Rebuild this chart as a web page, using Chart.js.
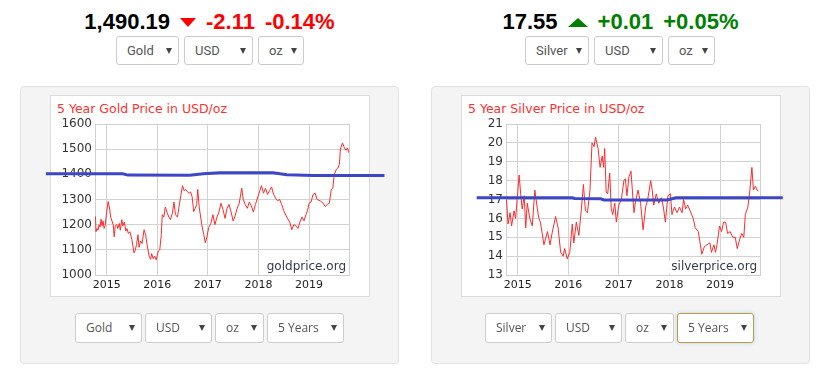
<!DOCTYPE html>
<html>
<head>
<meta charset="utf-8">
<script src="https://cdn.jsdelivr.net/npm/chart.js@4.4.1/dist/chart.umd.min.js"></script>
<style>
  body { margin: 0; background: #fff; width: 827px; height: 379px; overflow: hidden; position: relative; }
  .quote { position: absolute; top: 10px; width: 379px; display: flex; justify-content: center; align-items: center; gap: 10px;
           font: bold 22px "Liberation Sans", Arial, sans-serif; line-height: 24px; }
  .down { width: 0; height: 0; border-left: 8.5px solid transparent; border-right: 8.5px solid transparent; border-top: 9px solid #ff0000; }
  .up { width: 0; height: 0; border-left: 10px solid transparent; border-right: 10px solid transparent; border-bottom: 9px solid #008000; }
  .red { color: #ff0000; }
  .green { color: #008000; }
  .sel { position: absolute; box-sizing: border-box; border: 1px solid #ccc; border-radius: 3px; background: #fff; color: #555;
         padding-left: 10px; }
  .sel i { position: absolute; right: 6px; top: 50%; margin-top: -3px; width: 0; height: 0; border-left: 3px solid transparent;
           border-right: 3px solid transparent; border-top: 6px solid #444; }
  .top { top: 36px; height: 29px; line-height: 27px; font: 13px/27px Roboto, sans-serif; }
  .bot { top: 313px; height: 30px; font: 12px/28px "Open Sans", sans-serif; }
  .focus { border-color: #c49a3c; box-shadow: 0 0 4px rgba(102, 175, 233, 0.45); }
  .grp { position: absolute; top: 86px; width: 379px; height: 278px; }
  .panel { position: absolute; left: 0; top: 0; right: 0; bottom: 0; background: #f4f4f4; border: 1px solid #e2e2e2; border-radius: 4px; }
  .box { position: absolute; left: 30px; top: 9px; width: 320px; height: 202px; box-sizing: border-box; background: #fff; border: 1px solid #dcdcdc; }
  .box span { position: absolute; left: 6px; top: 5px; font: 12.5px "DejaVu Sans", sans-serif; color: #ff3030; white-space: nowrap; }
  canvas { position: absolute; left: 0; top: 0; }
</style>
</head>
<body>

<div class="quote" style="left:20px"><span>1,490.19</span><span class="down"></span><span class="red">-2.11</span><span class="red">-0.14%</span></div>
<div class="sel top" style="left:116px;width:63px">Gold<i></i></div>
<div class="sel top" style="left:184px;width:69px">USD<i></i></div>
<div class="sel top" style="left:258px;width:46px">oz<i></i></div>

<div class="quote" style="left:431px"><span>17.55</span><span class="up"></span><span class="green">+0.01</span><span class="green">+0.05%</span></div>
<div class="sel top" style="left:525px;width:64px">Silver<i></i></div>
<div class="sel top" style="left:594px;width:69px">USD<i></i></div>
<div class="sel top" style="left:668px;width:47px">oz<i></i></div>

<div class="grp" style="left:20px">
  <div class="panel"></div>
  <div class="box"><span>5 Year Gold Price in USD/oz</span></div>
  <canvas id="goldChart" width="379" height="278"></canvas>
</div>
<div class="grp" style="left:431px">
  <div class="panel"></div>
  <div class="box"><span>5 Year Silver Price in USD/oz</span></div>
  <canvas id="silverChart" width="379" height="278"></canvas>
</div>

<div class="sel bot" style="left:75px;width:67px">Gold<i></i></div>
<div class="sel bot" style="left:145px;width:67px">USD<i></i></div>
<div class="sel bot" style="left:215px;width:49px">oz<i></i></div>
<div class="sel bot" style="left:267px;width:77px">5 Years<i></i></div>

<div class="sel bot" style="left:485px;width:67px">Silver<i></i></div>
<div class="sel bot" style="left:555px;width:67px">USD<i></i></div>
<div class="sel bot" style="left:625px;width:49px">oz<i></i></div>
<div class="sel bot focus" style="left:677px;width:77px">5 Years<i></i></div>

<script>
// x axis: decimal years, labelled on each January
const yearTicks = [2015, 2016, 2017, 2018, 2019];

// gold, USD/oz
const goldYears = [2014.78, 2014.79, 2014.81, 2014.83, 2014.85, 2014.87, 2014.89, 2014.91, 2014.93, 2014.95, 2014.97,
  2015.00, 2015.03, 2015.06, 2015.08, 2015.10, 2015.13, 2015.15, 2015.17, 2015.20, 2015.22, 2015.25, 2015.27, 2015.30,
  2015.32, 2015.35, 2015.38, 2015.40, 2015.43, 2015.46, 2015.50, 2015.54, 2015.56, 2015.59, 2015.62, 2015.64, 2015.67,
  2015.70, 2015.74, 2015.77, 2015.80, 2015.84, 2015.87, 2015.89, 2015.92, 2015.95, 2015.98, 2016.02, 2016.05, 2016.08,
  2016.10, 2016.13, 2016.16, 2016.19, 2016.23, 2016.26, 2016.30, 2016.33, 2016.36, 2016.40, 2016.43, 2016.47, 2016.50,
  2016.53, 2016.56, 2016.60, 2016.63, 2016.66, 2016.69, 2016.72, 2016.75, 2016.78, 2016.80, 2016.83, 2016.88, 2016.92,
  2016.95, 2016.98, 2017.02, 2017.06, 2017.10, 2017.14, 2017.18, 2017.22, 2017.26, 2017.30, 2017.34, 2017.38, 2017.42,
  2017.46, 2017.50, 2017.54, 2017.58, 2017.62, 2017.67, 2017.70, 2017.74, 2017.78, 2017.82, 2017.86, 2017.90, 2017.94,
  2018.02, 2018.06, 2018.10, 2018.14, 2018.18, 2018.22, 2018.26, 2018.30, 2018.34, 2018.38, 2018.42, 2018.46, 2018.50,
  2018.56, 2018.62, 2018.66, 2018.70, 2018.74, 2018.78, 2018.82, 2018.86, 2018.90, 2018.94, 2018.97, 2019.00, 2019.04,
  2019.08, 2019.12, 2019.16, 2019.22, 2019.28, 2019.32, 2019.36, 2019.40, 2019.44, 2019.47, 2019.50, 2019.54, 2019.57,
  2019.60, 2019.62, 2019.66, 2019.70, 2019.73, 2019.76, 2019.79];
const goldPrices = [1232, 1172, 1185, 1178, 1200, 1190, 1222, 1195, 1215, 1185, 1195,
  1250, 1292, 1262, 1230, 1218, 1200, 1152, 1195, 1200, 1185, 1205, 1178, 1220,
  1195, 1210, 1175, 1185, 1165, 1172, 1140, 1088, 1095, 1120, 1160, 1110, 1135,
  1125, 1180, 1160, 1120, 1075, 1062, 1085, 1065, 1075, 1060, 1095, 1100, 1160,
  1240, 1230, 1270, 1250, 1230, 1220, 1245, 1290, 1240, 1230, 1270, 1320, 1355,
  1335, 1340, 1330, 1325, 1330, 1310, 1252, 1265, 1280, 1340, 1270, 1200, 1160,
  1128, 1150, 1190, 1205, 1240, 1200, 1230, 1250, 1285, 1260, 1225, 1265, 1280,
  1250, 1215, 1235, 1265, 1285, 1345, 1300, 1280, 1265, 1290, 1275, 1250, 1280,
  1330, 1355, 1325, 1345, 1320, 1335, 1350, 1320, 1305, 1295, 1300, 1280, 1255,
  1230, 1210, 1180, 1200, 1195, 1185, 1210, 1230, 1215, 1240, 1255, 1285, 1290,
  1320, 1325, 1300, 1295, 1285, 1272, 1280, 1285, 1340, 1345, 1400, 1420, 1425,
  1440, 1500, 1525, 1505, 1495, 1505, 1485];

// blue level line drawn across the gold panel
const goldLevelYears = [2013.80, 2015.32, 2015.42, 2016.64, 2016.91, 2017.24, 2018.29, 2018.56, 2019.09, 2020.49];
const goldLevelPrices = [1402, 1402, 1397, 1396, 1402, 1406, 1406, 1398, 1395, 1395];

// silver, USD/oz
const silverYears = [2014.78, 2014.81, 2014.85, 2014.88, 2014.93, 2014.96, 2014.99, 2015.03, 2015.06, 2015.09, 2015.13,
  2015.16, 2015.19, 2015.24, 2015.29, 2015.34, 2015.39, 2015.42, 2015.45, 2015.52, 2015.59, 2015.64, 2015.68, 2015.75,
  2015.80, 2015.85, 2015.90, 2015.93, 2015.98, 2016.03, 2016.08, 2016.11, 2016.16, 2016.21, 2016.26, 2016.30, 2016.34,
  2016.38, 2016.43, 2016.47, 2016.51, 2016.54, 2016.59, 2016.63, 2016.67, 2016.70, 2016.72, 2016.75, 2016.78, 2016.82,
  2016.85, 2016.88, 2016.92, 2016.95, 2017.00, 2017.05, 2017.10, 2017.13, 2017.16, 2017.20, 2017.24, 2017.30, 2017.33,
  2017.38, 2017.43, 2017.48, 2017.53, 2017.57, 2017.63, 2017.66, 2017.69, 2017.74, 2017.79, 2017.84, 2017.88, 2017.92,
  2017.97, 2018.02, 2018.05, 2018.10, 2018.15, 2018.20, 2018.25, 2018.28, 2018.32, 2018.36, 2018.41, 2018.47, 2018.51,
  2018.57, 2018.60, 2018.64, 2018.69, 2018.74, 2018.80, 2018.83, 2018.88, 2018.91, 2018.94, 2018.99, 2019.03, 2019.07,
  2019.11, 2019.15, 2019.20, 2019.25, 2019.30, 2019.34, 2019.39, 2019.43, 2019.47, 2019.50, 2019.55, 2019.59, 2019.63,
  2019.66, 2019.70, 2019.73, 2019.76];
const silverPrices = [17.0, 15.7, 16.3, 15.6, 16.4, 16.0, 17.0, 18.3, 17.3, 16.5, 17.2,
  15.5, 16.8, 16.0, 15.6, 17.5, 16.5, 16.0, 15.8, 14.6, 15.3, 14.6, 15.2, 16.1,
  15.5, 14.2, 14.0, 14.4, 13.85, 14.2, 15.7, 14.7, 15.8, 15.1, 16.5, 17.8, 16.4,
  16.3, 17.5, 20.0, 19.8, 20.3, 19.7, 18.7, 19.3, 18.7, 19.7, 17.4, 17.3, 18.4,
  16.5, 16.2, 16.8, 15.8, 16.7, 17.0, 18.0, 18.1, 17.2, 18.2, 18.5, 16.3, 16.9,
  17.5, 16.8, 15.4, 16.6, 17.0, 18.0, 17.5, 16.7, 17.3, 16.8, 17.1, 16.6, 15.8,
  17.2, 17.3, 16.2, 16.6, 16.3, 16.6, 16.3, 17.0, 16.5, 16.7, 16.4, 16.0, 15.5,
  15.3, 14.8, 14.1, 14.5, 14.6, 14.7, 14.2, 14.6, 14.2, 14.6, 15.6, 15.3, 15.8,
  15.8, 15.2, 15.3, 15.0, 15.0, 14.4, 14.9, 15.2, 15.0, 16.2, 16.6, 17.5, 18.7,
  17.5, 17.7, 17.5, 17.45];

// blue level line drawn across the silver panel
const silverLevelYears = [2014.19, 2016.08, 2016.13, 2016.64, 2016.71, 2017.96, 2018.13, 2020.24];
const silverLevelPrices = [17.09, 17.09, 17.05, 17.04, 16.98, 16.98, 17.09, 17.09];

function toPoints(xs, ys) {
  return xs.map((x, i) => ({ x: x, y: ys[i] }));
}

// plot frame + site label in the bottom right corner
function framePlugin(label) {
  return {
    id: "frame",
    beforeDatasetsDraw(chart) {
      const ctx = chart.ctx;
      const a = chart.chartArea;
      ctx.save();
      ctx.strokeStyle = "#cfcfcf";
      ctx.lineWidth = 1;
      ctx.strokeRect(Math.round(a.left) + 0.5, Math.round(a.top) + 0.5, Math.round(a.right - a.left), Math.round(a.bottom - a.top));
      ctx.font = "12px 'DejaVu Sans', sans-serif";
      const w = ctx.measureText(label).width;
      ctx.fillStyle = "rgba(255,255,255,0.9)";
      ctx.fillRect(a.right - w - 6, a.bottom - 15, w + 5, 14);
      ctx.fillStyle = "#343a4a";
      ctx.textAlign = "right";
      ctx.textBaseline = "middle";
      ctx.fillText(label, a.right - 3, a.bottom - 8);
      ctx.restore();
    }
  };
}

function makeChart(id, series, level, yMin, yMax, yStep, label) {
  return new Chart(document.getElementById(id), {
    type: "line",
    data: {
      datasets: [
        {
          data: level,
          borderColor: "#3d46c7",
          borderWidth: 3,
          pointRadius: 0,
          clip: false,
          tension: 0
        },
        {
          data: series,
          borderColor: "#ff2a2a",
          borderWidth: 1,
          pointRadius: 0,
          tension: 0
        }
      ]
    },
    options: {
      responsive: false,
      animation: false,
      layout: { padding: { left: 35, right: 50, top: 38, bottom: 69 } },
      plugins: { legend: { display: false }, tooltip: { enabled: false } },
      scales: {
        x: {
          type: "linear",
          min: 2014.77,
          max: 2019.79,
          afterBuildTicks: (s) => { s.ticks = yearTicks.map((v) => ({ value: v })); },
          afterFit: (s) => { s.height = 20; },
          grid: { color: "#d2d2d2", drawTicks: false },
          border: { color: "#cfcfcf" },
          ticks: {
            padding: 4,
            autoSkip: false,
            maxRotation: 0,
            color: "#222",
            font: { family: "DejaVu Sans", size: 11 },
            callback: (v) => String(v)
          }
        },
        y: {
          min: yMin,
          max: yMax,
          afterFit: (s) => { s.width = 40; },
          grid: { color: "#d2d2d2", drawTicks: false },
          border: { color: "#cfcfcf" },
          ticks: {
            stepSize: yStep,
            padding: 3,
            color: "#333",
            font: { family: "DejaVu Sans", size: 12 },
            callback: (v) => String(v)
          }
        }
      }
    },
    plugins: [framePlugin(label)]
  });
}

makeChart("goldChart", toPoints(goldYears, goldPrices), toPoints(goldLevelYears, goldLevelPrices),
  1000, 1600, 100, "goldprice.org");
makeChart("silverChart", toPoints(silverYears, silverPrices), toPoints(silverLevelYears, silverLevelPrices),
  13, 21, 1, "silverprice.org");
</script>
</body>
</html>
